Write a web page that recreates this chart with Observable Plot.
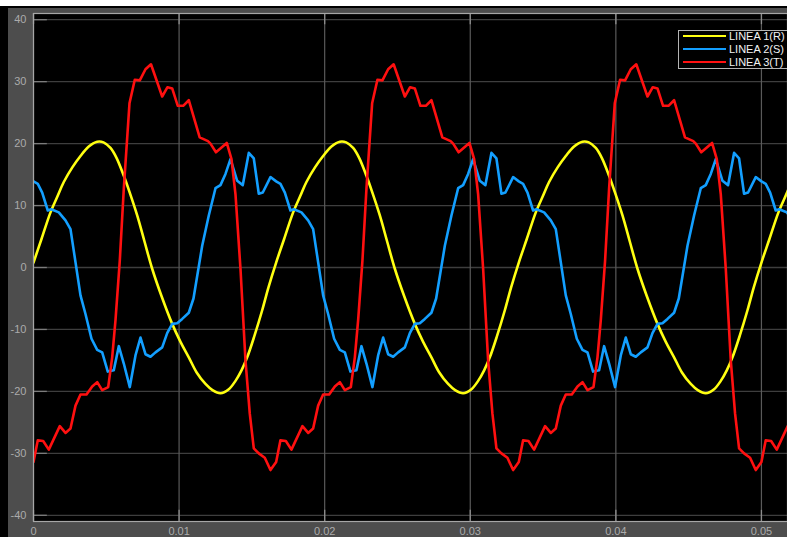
<!DOCTYPE html>
<html>
<head>
<meta charset="utf-8">
<script src="https://cdn.jsdelivr.net/npm/d3@7"></script>
<script src="https://cdn.jsdelivr.net/npm/@observablehq/plot@0.6"></script>
<style>
  body { margin: 0; background: #fff; }
  #page { position: relative; width: 787px; height: 537px; overflow: hidden; background: #000; }
  #topband { position: absolute; left: 0; top: 0; width: 787px; height: 6px; background: #fff; }
  #panel { position: absolute; left: 8px; top: 8px; right: 0; bottom: 0; background: #4d4d4d; }
  #chart { position: absolute; left: 8px; top: 8px; }
  #legend { position: absolute; left: 678px; top: 30px; width: 140px; height: 37px;
            border: 1px solid #b4b4b4; background: #000;
            font: 11px "Liberation Sans", Arial, sans-serif; color: #f2f2f2; }
  #legend .row { position: absolute; left: 4px; height: 12px; display: flex; align-items: center; white-space: nowrap; }
  #legend .sw { width: 43px; height: 2.5px; margin-right: 3px; }
</style>
</head>
<body>
<div id="page">
  <div id="topband"></div>
  <div id="panel"></div>
  <div id="chart"></div>
  <div id="legend"></div>
</div>
<script>
// Three-phase line currents, 60 Hz. One cycle of each trace (time in ms, value),
// repeated over the scope window.
const period = 1 / 60;

const seriesNames = ["LINEA 1(R)", "LINEA 2(S)", "LINEA 3(T)"];
const seriesColors = ["#ffff11", "#139fff", "#ff1010"];

const lineaR_ms = [0.000, 0.549, 1.168, 1.648, 2.081, 2.679, 3.228, 3.777, 4.375, 4.808, 5.288, 5.701,
  6.202, 6.593, 7.122, 7.624, 8.152, 8.791, 9.526, 10.096, 10.666, 11.195, 11.813, 12.294,
  12.843, 13.393, 13.874, 14.286, 14.677, 15.179, 15.708, 16.140];
const lineaR_val = [0.8, 4.6, 8.9, 11.5, 13.8, 16.2, 18.0, 19.5, 20.3, 20.2, 19.3, 17.7,
  14.8, 12.2, 8.4, 4.2, -0.2, -4.6, -9.1, -12.0, -14.5, -16.9, -18.8, -19.8,
  -20.3, -19.7, -18.3, -16.6, -14.5, -11.0, -6.9, -3.2];

const lineaS_ms = [0.000, 0.295, 0.598, 0.982, 1.216, 1.738, 2.198, 2.541, 3.228, 3.571, 3.984, 4.375,
  4.718, 5.103, 5.515, 5.859, 6.202, 6.614, 7.005, 7.349, 7.692, 8.036, 8.379, 8.839,
  9.183, 9.526, 9.869, 10.213, 10.666, 10.989, 11.587, 12.040, 12.500, 12.843, 13.187, 13.530,
  13.990, 14.375, 14.787, 15.131, 15.474, 15.749, 16.277];
const lineaS_val = [13.9, 13.5, 12.1, 9.2, 9.4, 8.9, 7.6, 6.2, -4.5, -7.5, -11.5, -13.3,
  -13.7, -16.8, -16.6, -12.7, -15.5, -19.3, -14.2, -11.3, -14.0, -14.4, -13.7, -12.9,
  -10.6, -9.1, -9.0, -8.3, -7.3, -5.0, 3.5, 8.4, 12.8, 13.3, 15.1, 17.5,
  14.0, 13.3, 18.5, 17.6, 11.9, 12.1, 14.6];

const lineaT_ms = [0.000, 0.295, 0.666, 1.051, 1.806, 2.198, 2.541, 2.885, 3.228, 3.640, 4.032, 4.375,
  4.718, 5.130, 5.405, 5.632, 5.927, 6.202, 6.593, 6.957, 7.301, 7.692, 8.070, 8.839,
  9.203, 9.526, 9.911, 10.282, 10.666, 11.415, 11.985, 12.157, 12.534, 13.276, 13.599, 13.874,
  14.217, 14.560, 14.856, 15.131, 15.474, 15.886, 16.277];
const lineaT_val = [-31.4, -27.9, -28.0, -29.4, -25.6, -26.7, -26.0, -22.3, -20.5, -20.5, -19.2, -18.5,
  -19.8, -19.3, -14.5, -8.5, 1.1, 12.7, 26.5, 30.3, 30.2, 32.0, 32.8, 27.6,
  29.1, 28.9, 26.1, 26.1, 27.0, 21.0, 20.4, 20.0, 18.6, 20.1, 17.5, 11.8,
  -0.2, -15.0, -23.6, -29.2, -30.0, -30.7, -32.7];

const xTicks = [0, 0.01, 0.02, 0.03, 0.04, 0.05];
const yTicks = [-40, -30, -20, -10, 0, 10, 20, 30, 40];

const xMax = 0.05179;
const yDomain = [-41, 41];

function traces(name, ms, vals) {
  const rows = [];
  for (let k = 0; k < 4; k++) {
    ms.forEach((m, i) => rows.push({ series: name, t: k * period + m / 1000, v: vals[i] }));
  }
  rows.push({ series: name, t: 4 * period, v: vals[0] });
  return rows.filter(d => d.t <= xMax + 0.002);
}

const lineaR = traces(seriesNames[0], lineaR_ms, lineaR_val);
const lineaS = traces(seriesNames[1], lineaS_ms, lineaS_val);
const lineaT = traces(seriesNames[2], lineaT_ms, lineaT_val);

const fmt = d => String(+d.toFixed(2));
const lineStyle = { x: "t", y: "v", stroke: "series", strokeWidth: 2.6, strokeLinejoin: "round", clip: true };

const chart = Plot.plot({
  width: 779,
  height: 529,
  marginLeft: 25,
  marginRight: 0,
  marginTop: 5,
  marginBottom: 16,
  style: { background: "transparent", color: "#ababab", fontFamily: "Liberation Sans, Arial, sans-serif", fontSize: "11px" },
  x: { domain: [0, xMax] },
  y: { domain: yDomain },
  color: { domain: seriesNames, range: seriesColors },
  marks: [
    Plot.frame({ fill: "#000" }),
    Plot.ruleY(yTicks, { stroke: "#3e3e3e", strokeWidth: 1.3 }),
    Plot.ruleX(xTicks, { stroke: "#5a5a5a", strokeWidth: 1.2 }),
    Plot.ruleY(yTicks, { x1: 0, x2: 0.00095, stroke: "#7c7c7c", strokeWidth: 1.3 }),
    Plot.ruleX(xTicks, { y1: yDomain[0], y2: yDomain[0] + 1.8, stroke: "#8c8c8c", strokeWidth: 1.3 }),
    Plot.ruleX(xTicks, { y1: yDomain[1] - 1.8, y2: yDomain[1], stroke: "#8c8c8c", strokeWidth: 1.3 }),
    Plot.line(lineaR, { ...lineStyle, curve: "catmull-rom" }),
    Plot.line(lineaS, lineStyle),
    Plot.line(lineaT, lineStyle),
    Plot.frame({ stroke: "#a6a6a6", strokeWidth: 1.2 }),
    Plot.axisX(xTicks, { tickSize: 0, tickPadding: 6, tickFormat: fmt, label: null }),
    Plot.axisY(yTicks, { tickSize: 0, tickPadding: 7, tickFormat: d => String(d), label: null })
  ]
});
document.getElementById("chart").appendChild(chart);

// Legend box in the upper-right corner of the axes
const legend = d3.select("#legend");
seriesNames.forEach((name, i) => {
  const row = legend.append("div").attr("class", "row").style("top", `${-1 + i * 13}px`);
  row.append("div").attr("class", "sw").style("background", seriesColors[i]);
  row.append("span").text(name);
});
</script>
</body>
</html>
